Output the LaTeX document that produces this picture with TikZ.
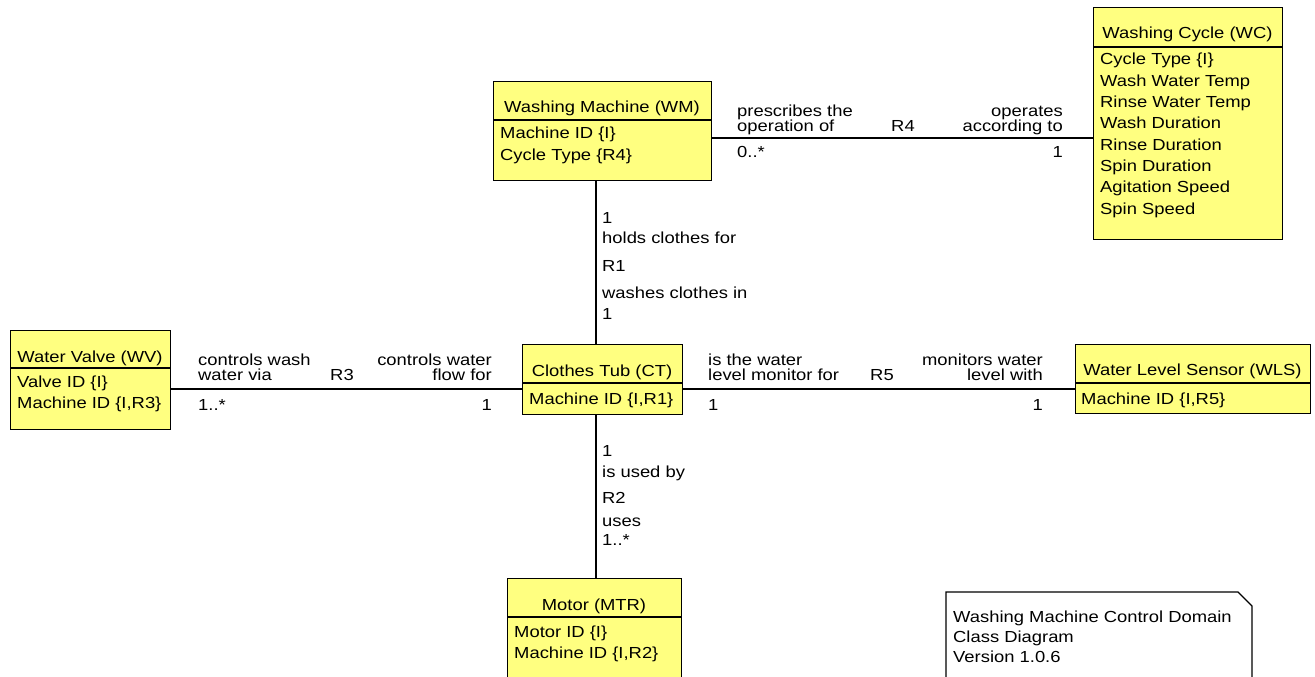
\documentclass[tikz,border=0pt]{standalone}
\usepackage{fontspec}
\setmainfont{Liberation Sans}[FakeStretch=1.15]
\definecolor{clsfill}{RGB}{255,255,128}
\newcommand\dfont{\fontsize{16pt}{19pt}\selectfont}
\tikzset{
  cls/.style={draw=black, fill=clsfill, line width=1.2pt, inner sep=0pt, anchor=north west},
  divider/.style={draw=black, line width=1.2pt},
  assoc/.style={draw=black, line width=1.2pt},
  txt/.style={inner sep=0pt, font=\dfont, text=black},
  notebox/.style={draw=black, fill=white, line width=1.2pt},
}
\begin{document}
\begin{tikzpicture}[x=1pt,y=-1pt]
\clip (0,0) rectangle (1315,677);
\fill[white] (0,0) rectangle (1315,677);

% ---------- class boxes ----------
\node[cls, minimum width=218pt, minimum height=99pt] (wm) at (493,81) {};
\draw[divider] (wm.west |- 0,120) -- (wm.east |- 0,120);
\node[txt, anchor=base] (wmt) at (602,113) {Washing Machine (WM)};
\node[txt, anchor=base west] (wma1) at (500,138) {Machine ID \{I\}};
\node[txt, anchor=base west] (wma2) at (500,160) {Cycle Type \{R4\}};

\node[cls, minimum width=189pt, minimum height=232pt] (wc) at (1093,7) {};
\draw[divider] (wc.west |- 0,47) -- (wc.east |- 0,47);
\node[txt, anchor=base] (wct) at (1187.5,39) {Washing Cycle (WC)};
\node[txt, anchor=base west] (wca1) at (1100,65) {Cycle Type \{I\}};
\node[txt, anchor=base west] (wca2) at (1100,86.3) {Wash Water Temp};
\node[txt, anchor=base west] (wca3) at (1100,107.6) {Rinse Water Temp};
\node[txt, anchor=base west] (wca4) at (1100,128.9) {Wash Duration};
\node[txt, anchor=base west] (wca5) at (1100,150.2) {Rinse Duration};
\node[txt, anchor=base west] (wca6) at (1100,171.5) {Spin Duration};
\node[txt, anchor=base west] (wca7) at (1100,192.8) {Agitation Speed};
\node[txt, anchor=base west] (wca8) at (1100,214.1) {Spin Speed};

\node[cls, minimum width=160pt, minimum height=99pt] (wv) at (10,330) {};
\draw[divider] (wv.west |- 0,368) -- (wv.east |- 0,368);
\node[txt, anchor=base] (wvt) at (90,362) {Water Valve (WV)};
\node[txt, anchor=base west] (wva1) at (17,387) {Valve ID \{I\}};
\node[txt, anchor=base west] (wva2) at (17,408) {Machine ID \{I,R3\}};

\node[cls, minimum width=160pt, minimum height=70pt] (ct) at (522,344) {};
\draw[divider] (ct.west |- 0,383) -- (ct.east |- 0,383);
\node[txt, anchor=base] (ctt) at (602,376) {Clothes Tub (CT)};
\node[txt, anchor=base west] (cta1) at (529,404) {Machine ID \{I,R1\}};

\node[cls, minimum width=235pt, minimum height=69pt] (wls) at (1075,344) {};
\draw[divider] (wls.west |- 0,383) -- (wls.east |- 0,383);
\node[txt, anchor=base] (wlst) at (1192.5,375) {Water Level Sensor (WLS)};
\node[txt, anchor=base west] (wlsa1) at (1081,404) {Machine ID \{I,R5\}};

\node[cls, minimum width=174pt, minimum height=130pt] (mtr) at (507,578) {};
\draw[divider] (mtr.west |- 0,617) -- (mtr.east |- 0,617);
\node[txt, anchor=base] (mtrt) at (594,610) {Motor (MTR)};
\node[txt, anchor=base west] (mtra1) at (514,637) {Motor ID \{I\}};
\node[txt, anchor=base west] (mtra2) at (514,658) {Machine ID \{I,R2\}};

% ---------- associations ----------
\draw[assoc] (wm.east |- 0,138) -- (wc.west |- 0,138);
\draw[assoc] (wm.south -| 596,0) -- (ct.north -| 596,0);
\draw[assoc] (wv.east |- 0,389) -- (ct.west |- 0,389);
\draw[assoc] (ct.east |- 0,389) -- (wls.west |- 0,389);
\draw[assoc] (ct.south -| 596,0) -- (mtr.north -| 596,0);

% R4 labels
\node[txt, anchor=base west] (r4l1) at (737,117) {prescribes the};
\node[txt, anchor=base west] (r4l2) at (737,131) {operation of};
\node[txt, anchor=base] (r4n) at (903,131) {R4};
\node[txt, anchor=base east] (r4r1) at (1063,117) {operates};
\node[txt, anchor=base east] (r4r2) at (1063,131) {according to};
\node[txt, anchor=base west] (r4lm) at (737,157) {0..*};
\node[txt, anchor=base east] (r4rm) at (1063,157) {1};

% R3 labels
\node[txt, anchor=base west] (r3l1) at (198,365) {controls wash};
\node[txt, anchor=base west] (r3l2) at (198,380) {water via};
\node[txt, anchor=base] (r3n) at (342,380) {R3};
\node[txt, anchor=base east] (r3r1) at (492,365) {controls water};
\node[txt, anchor=base east] (r3r2) at (492,380) {flow for};
\node[txt, anchor=base west] (r3lm) at (198,410) {1..*};
\node[txt, anchor=base east] (r3rm) at (492,410) {1};

% R5 labels
\node[txt, anchor=base west] (r5l1) at (708,365) {is the water};
\node[txt, anchor=base west] (r5l2) at (708,380) {level monitor for};
\node[txt, anchor=base] (r5n) at (882,380) {R5};
\node[txt, anchor=base east] (r5r1) at (1043,365) {monitors water};
\node[txt, anchor=base east] (r5r2) at (1043,380) {level with};
\node[txt, anchor=base west] (r5lm) at (708,410) {1};
\node[txt, anchor=base east] (r5rm) at (1043,410) {1};

% R1 labels
\node[txt, anchor=base west] (r1a) at (602,223) {1};
\node[txt, anchor=base west] (r1b) at (602,243) {holds clothes for};
\node[txt, anchor=base west] (r1n) at (602,271) {R1};
\node[txt, anchor=base west] (r1c) at (602,298) {washes clothes in};
\node[txt, anchor=base west] (r1d) at (602,319) {1};

% R2 labels
\node[txt, anchor=base west] (r2a) at (602,456) {1};
\node[txt, anchor=base west] (r2b) at (602,477) {is used by};
\node[txt, anchor=base west] (r2n) at (602,503) {R2};
\node[txt, anchor=base west] (r2c) at (602,526) {uses};
\node[txt, anchor=base west] (r2d) at (602,545) {1..*};

% ---------- note ----------
\draw[notebox] (946,700) -- (946,592) -- (1238,592) -- (1252,606) -- (1252,700);
\node[txt, anchor=base west] (n1) at (953,622) {Washing Machine Control Domain};
\node[txt, anchor=base west] (n2) at (953,642) {Class Diagram};
\node[txt, anchor=base west] (n3) at (953,662) {Version 1.0.6};
\end{tikzpicture}
\end{document}
